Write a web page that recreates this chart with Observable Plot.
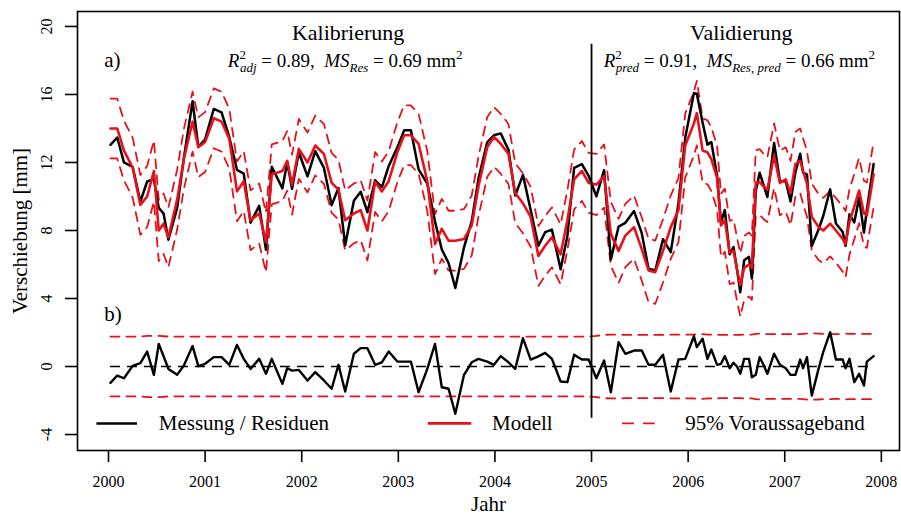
<!DOCTYPE html>
<html><head><meta charset="utf-8">
<script src="https://cdn.jsdelivr.net/npm/d3@7"></script>
<script src="https://cdn.jsdelivr.net/npm/@observablehq/plot@0.6"></script>
<style>
body{margin:0;background:#fff}
#chart svg, #chart svg text, #chart svg tspan{font-family:"Liberation Serif","Times New Roman",serif !important}
svg text{white-space:pre}
</style>
</head><body><div id="chart"></div>
<script>
// ---- Daten ----
const jahr = [2000.02,2000.09,2000.16,2000.25,2000.33,2000.40,2000.47,2000.52,2000.57,2000.62,2000.71,2000.78,2000.87,2000.93,
2001.00,2001.09,2001.17,2001.25,2001.33,2001.40,2001.47,2001.56,2001.63,2001.69,2001.80,2001.85,2001.90,2001.97,
2002.06,2002.14,2002.23,2002.31,2002.38,2002.45,2002.54,2002.61,2002.68,2002.76,2002.83,2002.90,2002.99,
2003.06,2003.13,2003.21,2003.30,2003.38,2003.45,2003.52,2003.59,2003.68,2003.76,2003.83,2003.92,2003.99,
2004.06,2004.14,2004.21,2004.29,2004.37,2004.45,2004.52,2004.59,2004.68,2004.75,2004.82,2004.90,2004.97,
2005.05,2005.13,2005.20,2005.28,2005.35,2005.44,2005.52,2005.59,2005.66,2005.74,2005.82,2005.90,2005.97,
2006.06,2006.09,2006.15,2006.20,2006.24,2006.30,2006.34,2006.38,2006.43,2006.47,2006.51,2006.54,2006.58,2006.63,2006.66,2006.70,2006.74,2006.78,2006.82,2006.89,2006.95,
2007.01,2007.06,2007.11,2007.16,2007.19,2007.23,2007.28,2007.35,2007.40,2007.47,2007.53,2007.60,2007.63,2007.67,2007.72,2007.77,2007.82,2007.85,2007.92];

const modell = [14.0,14.0,12.7,11.7,9.5,10.0,11.5,8.0,8.4,7.6,9.8,12.2,14.4,12.9,
13.2,14.6,14.4,13.4,10.3,10.9,8.6,9.0,7.3,11.3,11.5,12.1,10.7,12.8,
12.0,13.0,12.5,10.8,10.4,8.6,9.0,9.2,8.0,10.85,10.3,10.9,12.6,
13.6,13.6,13.1,10.9,7.2,8.1,7.4,7.4,7.5,8.3,10.6,12.9,13.5,
13.1,12.5,10.2,9.6,8.8,6.5,7.1,7.6,6.6,8.6,11.0,11.5,10.8,
10.7,11.2,7.8,6.8,7.7,8.2,6.9,5.65,5.55,6.8,8.2,9.2,13.0,
14.3,14.9,12.7,12.6,12.2,11.1,8.3,8.6,6.7,6.8,5.6,4.8,5.8,6.0,5.8,10.8,10.85,10.6,10.4,12.4,10.8,
11.0,10.2,11.9,12.1,11.5,10.75,8.8,8.2,8.0,8.4,8.0,7.5,7.2,8.5,9.4,10.35,9.0,8.9,11.3];

const residuen = [-0.96,-0.53,-0.69,0.04,0.20,0.88,-0.49,1.33,0.60,-0.14,-0.49,0.06,1.20,0.02,
0.16,0.55,0.55,0.10,1.27,0.45,-0.14,0.45,-0.43,0.45,-1.02,-0.10,-0.24,-0.20,
-0.82,-0.33,-0.82,-1.31,0.10,-1.47,0.75,1.08,1.08,0.10,0.25,0.88,0.29,
0.29,0.29,-1.51,-0.14,1.33,-1.22,-1.31,-2.78,-0.49,0.25,0.45,0.29,0.10,
0.61,0.25,-0.14,1.67,0.41,0.60,0.80,0.45,-0.88,-0.92,0.69,0.41,0.41,
-0.69,0.35,-1.51,1.43,0.75,0.94,0.94,0.10,0.10,0.69,-1.47,0.41,0.45,
1.78,1.14,1.63,0.45,1.00,0.10,0.16,0.61,-0.10,0.22,-0.04,-0.43,0.45,0.45,-0.63,-0.49,0.55,0.10,-0.43,0.75,0.10,
-0.10,-0.49,-0.49,0.41,-0.10,0.55,-1.71,-0.14,0.88,2.02,0.41,0.41,-0.10,0.45,-0.92,-0.43,-1.12,0.29,0.61];

// halbe Breite des 95%-Voraussagebands
const bandBreite = [1.76,1.76,1.76,1.76,1.76,1.80,1.80,1.80,1.78,1.76,1.76,1.76,1.76,1.76,
1.76,1.76,1.76,1.76,1.76,1.76,1.76,1.76,1.76,1.76,1.76,1.76,1.76,1.76,
1.76,1.76,1.76,1.76,1.76,1.76,1.76,1.76,1.76,1.76,1.76,1.76,1.76,
1.76,1.76,1.76,1.76,1.76,1.76,1.76,1.76,1.76,1.76,1.76,1.76,1.76,
1.76,1.76,1.76,1.76,1.76,1.76,1.76,1.76,1.76,1.76,1.76,1.76,1.76,
1.80,1.86,1.88,1.88,1.86,1.86,1.86,1.86,1.86,1.86,1.87,1.88,1.88,
1.88,1.90,1.90,1.88,1.88,1.87,1.86,1.86,1.86,1.86,1.86,1.86,1.88,1.88,1.88,1.92,1.94,1.92,1.90,1.90,1.90,
1.90,1.90,1.90,1.90,1.92,1.94,1.96,1.94,1.92,1.92,1.90,1.92,1.94,1.92,1.92,1.92,1.92,1.92,1.92];

const yTicks = [-4, 0, 4, 8, 12, 16, 20];
const xTicks = [2000, 2001, 2002, 2003, 2004, 2005, 2006, 2007, 2008];
const periodeGrenze = 2005;
const perioden = ["Kalibrierung", "Validierung"];
const kennwerteKal = {R2: "0.89", MS: "0.69"};
const kennwerteVal = {R2: "0.91", MS: "0.66"};
const legendeText = ["Messung / Residuen", "Modell", "95% Voraussageband"];

// ---- Layout ----
const FONT = '"Liberation Serif", "Times New Roman", serif';
const rot = "#e8101a";
const dash = "9,7";
const rows = jahr.map((j, i) => ({
  jahr: j,
  modell: modell[i],
  messung: modell[i] + residuen[i],
  resid: residuen[i],
  oben: modell[i] + bandBreite[i],
  unten: modell[i] - bandBreite[i],
  rOben: bandBreite[i],
  rUnten: -bandBreite[i]
}));
const legende = [
  {label: legendeText[0], x1: 1999.88, x2: 2000.30, tx: 2000.52, stroke: "black", w: 2.6, dash: null},
  {label: legendeText[1], x1: 2003.31, x2: 2003.76, tx: 2003.97, stroke: rot, w: 2.8, dash: null},
  {label: legendeText[2], x1: 2005.32, x2: 2005.66, tx: 2005.97, stroke: rot, w: 1.8, dash: "12,9"}
];
const legY = -3.35;
const kalPlain = "R2adj = " + kennwerteKal.R2 + ",  MSRes = " + kennwerteKal.MS + " mm2";
const valPlain = "R2pred = " + kennwerteVal.R2 + ",  MSRes, pred = " + kennwerteVal.MS + " mm2";

const marks = [
  Plot.line(rows, {x: "jahr", y: "oben", stroke: rot, strokeWidth: 1.8, strokeDasharray: dash}),
  Plot.line(rows, {x: "jahr", y: "unten", stroke: rot, strokeWidth: 1.8, strokeDasharray: dash}),
  Plot.line(rows, {x: "jahr", y: "messung", stroke: "black", strokeWidth: 2.5}),
  Plot.line(rows, {x: "jahr", y: "modell", stroke: rot, strokeWidth: 2.6}),
  Plot.ruleY([0], {x1: jahr[0], x2: jahr[jahr.length - 1], stroke: "black", strokeWidth: 1.3, strokeDasharray: "10,7"}),
  Plot.line(rows, {x: "jahr", y: "rOben", stroke: rot, strokeWidth: 1.8, strokeDasharray: dash}),
  Plot.line(rows, {x: "jahr", y: "rUnten", stroke: rot, strokeWidth: 1.8, strokeDasharray: dash}),
  Plot.line(rows, {x: "jahr", y: "resid", stroke: "black", strokeWidth: 2.4}),
  Plot.ruleX([periodeGrenze], {y1: 18.95, y2: -3.05, stroke: "black", strokeWidth: 1.8}),
  Plot.text([perioden[0]], {x: 2002.48, y: 19.6, text: d => d, fontSize: 22}),
  Plot.text([perioden[1]], {x: 2006.55, y: 19.6, text: d => d, fontSize: 22}),
  Plot.text([kalPlain], {x: 2002.45, y: 17.95, text: d => d, fontSize: 19}),
  Plot.text([valPlain], {x: 2006.53, y: 17.95, text: d => d, fontSize: 19}),
  Plot.text(["a)"], {x: 1999.955, y: 18.0, text: d => d, fontSize: 21, textAnchor: "start"}),
  Plot.text(["b)"], {x: 1999.955, y: 3.1, text: d => d, fontSize: 21, textAnchor: "start"}),
  ...legende.map(l => Plot.ruleY([l], {x1: "x1", x2: "x2", y: legY, stroke: l.stroke, strokeWidth: l.w, strokeDasharray: l.dash})),
  Plot.text(legende, {x: "tx", y: legY, text: "label", textAnchor: "start", fontSize: 21}),
  Plot.frame({stroke: "black", strokeWidth: 1.6}),
  Plot.axisY({ticks: yTicks, tickSize: 12, tickFormat: () => "", strokeWidth: 1.6, label: null}),
  Plot.text(yTicks, {y: d => d, text: d => String(d), frameAnchor: "left", dx: -31, rotate: -90, textAnchor: "middle", lineAnchor: "middle", fontSize: 16}),
  Plot.axisX({ticks: xTicks, tickSize: 12, tickPadding: 13, tickFormat: d => String(d), fontSize: 16, strokeWidth: 1.6, label: null}),
  Plot.text(["Verschiebung [mm]"], {frameAnchor: "left", dx: -57, rotate: -90, textAnchor: "middle", lineAnchor: "middle", text: d => d, fontSize: 21}),
  Plot.text(["Jahr"], {frameAnchor: "bottom", dy: 54, textAnchor: "middle", lineAnchor: "middle", text: d => d, fontSize: 21})
];

const chart = Plot.plot({
  width: 901, height: 517,
  marginLeft: 77, marginRight: 2, marginTop: 11, marginBottom: 67,
  x: {domain: [1999.679, 2008.188], label: null},
  y: {domain: [-4.94, 20.88], label: null},
  style: {fontFamily: FONT, fontSize: "16px", background: "white", color: "black", overflow: "visible"},
  marks
});
chart.setAttribute("font-family", FONT);
document.getElementById("chart").appendChild(chart);

// Formeln mit Hoch-/Tiefstellung
function setzeFormel(plain, teile) {
  const el = Array.from(chart.querySelectorAll("text")).find(t => t.textContent === plain);
  if (!el) return;
  while (el.firstChild) el.removeChild(el.firstChild);
  const ns = "http://www.w3.org/2000/svg";
  for (const p of teile) {
    const ts = document.createElementNS(ns, "tspan");
    ts.textContent = p.t;
    if (p.it) ts.setAttribute("font-style", "italic");
    if (p.size) ts.setAttribute("font-size", p.size);
    if (p.dx) ts.setAttribute("dx", p.dx);
    if (p.dy) ts.setAttribute("dy", p.dy);
    el.appendChild(ts);
  }
}
setzeFormel(kalPlain, [
  {t: "R", it: true}, {t: "2", size: 13, dy: -8}, {t: "adj", it: true, size: 13, dx: -6, dy: 13},
  {t: " = " + kennwerteKal.R2 + ",  ", dy: -5}, {t: "MS", it: true}, {t: "Res", it: true, size: 13, dy: 5},
  {t: " = " + kennwerteKal.MS + " mm", dy: -5}, {t: "2", size: 13, dy: -8}
]);
setzeFormel(valPlain, [
  {t: "R", it: true}, {t: "2", size: 13, dy: -8}, {t: "pred", it: true, size: 13, dx: -6, dy: 13},
  {t: " = " + kennwerteVal.R2 + ",  ", dy: -5}, {t: "MS", it: true}, {t: "Res, pred", it: true, size: 13, dy: 5},
  {t: " = " + kennwerteVal.MS + " mm", dy: -5}, {t: "2", size: 13, dy: -8}
]);
</script>
</body></html>
